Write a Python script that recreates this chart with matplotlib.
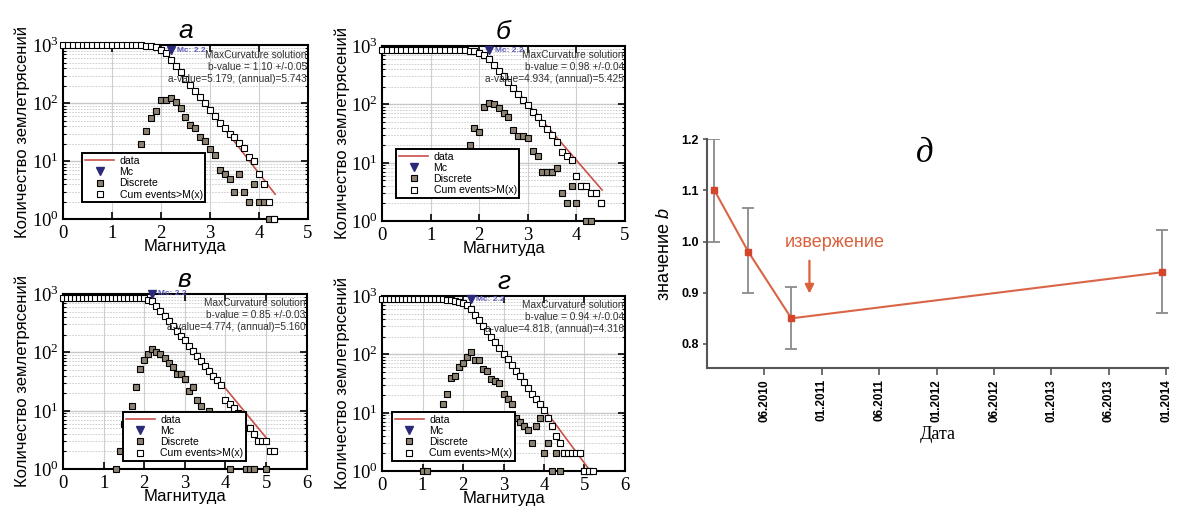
import numpy as np
import matplotlib
matplotlib.use("Agg")
import matplotlib.pyplot as plt
from matplotlib.ticker import FixedLocator, LogLocator, FuncFormatter, NullFormatter

plt.rcParams['font.family'] = ['Liberation Sans', 'DejaVu Sans']
plt.rcParams['mathtext.fontset'] = 'custom'
plt.rcParams['mathtext.rm'] = 'Liberation Serif'
plt.rcParams['mathtext.it'] = 'Liberation Sans:italic'

# ── Данные: графики повторяемости (а, б, в, г) ─────────────
# кумулятивное число событий, бины по 0.1 начиная с M=0
cum_a = [1000]*16 + [995, 985, 960, 930, 840, 740, 566, 435, 348, 257, 205, 164, 129, 100,
                     76, 60, 46, 37, 30, 26, 21, 17, 12, 10, 6, 4, 2, 1]
cum_b = [850]*17 + [845, 830, 810, 760, 690, 600, 470, 380, 300, 240, 190, 150, 120, 97,
                    75, 60, 47, 38, 30, 23, 15, 13, 11, 6, 4, 4, 3, 3, 2]
cum_v = [870]*19 + [860, 840, 800, 760, 620, 510, 420, 340, 280, 230, 190, 160, 130, 105,
                    85, 70, 58, 48, 40, 33, 27, 15, 13, 11, 9, 7, 5, 5, 4, 3, 3, 3, 2, 2]
cum_g = [870]*16 + [860, 850, 830, 800, 760, 700, 600, 470, 380, 310, 250, 200, 160, 130,
                    100, 82, 65, 52, 42, 33, 26, 21, 17, 14, 11, 8, 6, 4, 3, 2, 2, 2, 2, 2,
                    1, 1, 1]

# дискретное число событий (первый бин и значения)
disc_a_m0 = 1.6
disc_a = [20, 33, 55, 74, 115, 115, 122, 105, 83, 58, 42, 38, 26, 22, 16, 13, 7, 6, 5,
          3, 6, 3, 2, 4, 2, 2, 1, 1]
disc_b_m0 = 1.8
disc_b = [20, 40, 33, 91, 105, 100, 85, 70, 60, 37, 29, 29, 26, 16, 13, 7, 7, 7, 8,
          3, 2, 4, 2, 4, 1, 1, 3, 2]
disc_v_m0 = 1.3
disc_v = [1, 2, 6, 8, 12, 25, 52, 75, 94, 115, 100, 95, 80, 65, 55, 42, 42, 35, 22, 25,
          15, 12, 8, 10, 5, 6, 4, 3, 1, 2, 2, 2, 1, 1, 1, 0, 0, 1]
disc_g_m0 = 1.0
disc_g = [1, 1, 0, 0, 0, 14, 21, 40, 42, 60, 70, 89, 108, 80, 80, 55, 52, 38, 35, 32,
          21, 17, 14, 8, 7, 6, 5, 3, 6, 8, 2, 3, 1, 2, 1, 2, 0, 0, 0, 0, 1, 1]

# линия аппроксимации (начало, конец)
fit_a_m, fit_a_n = [2.2, 4.33], [574, 2.7]
fit_b_m, fit_b_n = [2.2, 4.53], [600, 3.4]
fit_v_m, fit_v_n = [2.2, 5.07], [800, 3.0]
fit_g_m, fit_g_n = [2.2, 5.12], [562, 1.05]

mc_vals = [2.2, 2.2, 2.2, 2.2]
mc_n = [820, 850, 1000, 875]

b_texts = ['b-value = 1.10 +/-0.05', 'b-value = 0.98 +/-0.04',
           'b-value = 0.85 +/-0.03', 'b-value = 0.94 +/-0.04']
a_texts = ['a-value=5.179, (annual)=5.743', 'a-value=4.934, (annual)=5.425',
           'a-value=4.774, (annual)=5.160', 'a-value=4.818, (annual)=4.316']
titles = ['а', 'б', 'в', 'г']

# ── Данные: значение b во времени (д) ─────────────────────
date_labels = ['06.2010', '01.2011', '06.2011', '01.2012',
               '06.2012', '01.2013', '06.2013', '01.2014']
b_pos = [0.13, 0.72, 1.47, 7.93]       # позиция в единицах шага подписей дат
b_vals = [1.10, 0.98, 0.85, 0.94]
b_low = [1.00, 0.90, 0.79, 0.86]
b_high = [1.20, 1.065, 0.912, 1.023]
eruption_pos = 1.785

RED_FIT = '#c8504a'
NAVY = '#2b2a7a'


def gr_panel(ax, title, xmax, cum, d_m0, disc, fit_m, fit_n, mc, mcn, btxt, atxt, leg_xy):
    m_cum = np.round(np.arange(len(cum)) * 0.1, 1)
    m_disc = np.round(d_m0 + np.arange(len(disc)) * 0.1, 1)
    disc = np.array(disc, dtype=float)
    keep = disc > 0

    ax.set_yscale('log')
    ax.set_xlim(0, xmax)
    ax.set_ylim(1, 1000)

    # сетка
    for xv in range(1, xmax):
        ax.axvline(xv, color='#cfcfcf', lw=0.8, zorder=0)
    for dec in [1, 10, 100]:
        for k in range(2, 10):
            ax.axhline(dec * k, color='#c8c8c8', lw=0.6, ls=(0, (2, 1.5)), zorder=0)
    for yv in [10, 100]:
        ax.axhline(yv, color='#c8c8c8', lw=1.0, zorder=0)

    l_fit, = ax.plot(fit_m, fit_n, color=RED_FIT, lw=1.2, zorder=3, label='data')
    l_mc, = ax.plot([mc], [mcn], 'v', color=NAVY, ms=6, zorder=5, clip_on=False, label='Mc')
    ax.text(mc + 0.13, mcn, 'Mc: %.1f' % mc, color='#5a5ab8', fontsize=6, fontweight='bold',
            va='center', zorder=5)
    l_d, = ax.plot(m_disc[keep], disc[keep], 's', ms=4.4, mfc='#8c8272', mec='black',
                   mew=0.8, zorder=4, clip_on=False, label='Discrete')
    l_c, = ax.plot(m_cum, cum, 's', ms=4.4, mfc='white', mec='black', mew=0.8, zorder=4,
                   clip_on=False, label='Cum events>M(x)')

    ax.text(0.995, 0.975, 'MaxCurvature solution\n' + btxt + '\n' + atxt,
            transform=ax.transAxes, ha='right', va='top', fontsize=7.3,
            linespacing=1.25, color='#333333', zorder=6)

    leg = ax.legend(handles=[l_fit, l_mc, l_d, l_c], loc='lower left',
                    bbox_to_anchor=leg_xy, fontsize=7.6, frameon=True, fancybox=False,
                    framealpha=1, edgecolor='black', borderpad=0.25, labelspacing=0.12,
                    handlelength=2.8, handletextpad=0.5, borderaxespad=0)
    leg.get_frame().set_linewidth(1.4)
    leg.set_zorder(10)

    ax.xaxis.set_major_locator(FixedLocator(range(0, xmax + 1)))
    ax.yaxis.set_major_locator(LogLocator(base=10, numticks=10))
    ax.yaxis.set_minor_locator(LogLocator(base=10, subs=np.arange(2, 10), numticks=10))
    ax.yaxis.set_major_formatter(FuncFormatter(lambda v, p: '$10^{%d}$' % round(np.log10(v))))
    ax.yaxis.set_minor_formatter(NullFormatter())
    ax.tick_params(which='both', direction='in', top=True, right=True)
    ax.tick_params(which='major', length=5, width=1.2, labelsize=13.5)
    ax.tick_params(axis='x', pad=4)
    ax.tick_params(axis='y', pad=3)
    ax.tick_params(which='minor', length=2.5, width=0.8)
    for lab in ax.get_xticklabels():
        lab.set_fontfamily('Liberation Serif')
    for s in ax.spines.values():
        s.set_linewidth(1.5)

    ax.set_xlabel('Магнитуда', fontsize=12, labelpad=-2)
    ax.set_ylabel('Количество землетрясений', fontsize=12, labelpad=1)
    ax.set_title(title, fontsize=19, fontstyle='italic', pad=5)


fig = plt.figure(figsize=(11.95, 5.11), dpi=100)

ax_a = fig.add_axes([0.0527, 0.571, 0.205, 0.3405])
ax_b = fig.add_axes([0.3197, 0.5675, 0.2033, 0.3425])
ax_v = fig.add_axes([0.0527, 0.0822, 0.204, 0.3425])
ax_g = fig.add_axes([0.3197, 0.0783, 0.2033, 0.3425])

gr_panel(ax_a, titles[0], 5, cum_a, disc_a_m0, disc_a, fit_a_m, fit_a_n, mc_vals[0], mc_n[0],
         b_texts[0], a_texts[0], (0.078, 0.098))
gr_panel(ax_b, titles[1], 5, cum_b, disc_b_m0, disc_b, fit_b_m, fit_b_n, mc_vals[1], mc_n[1],
         b_texts[1], a_texts[1], (0.058, 0.131))
gr_panel(ax_v, titles[2], 6, cum_v, disc_v_m0, disc_v, fit_v_m, fit_v_n, mc_vals[2], mc_n[2],
         b_texts[2], a_texts[2], (0.246, 0.046))
gr_panel(ax_g, titles[3], 6, cum_g, disc_g_m0, disc_g, fit_g_m, fit_g_n, mc_vals[3], mc_n[3],
         b_texts[3], a_texts[3], (0.041, 0.057))

# ── Панель д ──────────────────────────────────────────────
ax5 = fig.add_axes([0.5916, 0.2798, 0.3858, 0.448])
yerr = [np.array(b_vals) - np.array(b_low), np.array(b_high) - np.array(b_vals)]
ax5.errorbar(b_pos, b_vals, yerr=yerr, fmt='none', ecolor='#8a8a8a', elinewidth=1.3,
             capsize=4.5, capthick=1.3, zorder=2)
ax5.plot(b_pos, b_vals, '-s', color='#da6446', lw=1.5, ms=5, mfc='#d4462c', mec='#d4462c',
         zorder=3)

ax5.annotate('', xy=(eruption_pos, 0.893), xytext=(eruption_pos, 0.968),
             arrowprops=dict(arrowstyle='-|>', color='#d9603b', lw=1.6, mutation_scale=13))
ax5.text(2.22, 0.999, 'извержение', color='#d9603b', fontsize=13, ha='center', va='center')
ax5.text(3.79, 1.172, 'д', fontsize=25, fontstyle='italic', family='Liberation Serif',
         ha='center', va='center')

ax5.set_xlim(0, 8.03)
ax5.set_ylim(0.753, 1.2)
ax5.set_xticks(range(1, 9))
ax5.set_xticklabels(date_labels, rotation=90, fontsize=8.5, fontweight='bold')
ax5.set_yticks([0.8, 0.9, 1.0, 1.1, 1.2])
ax5.set_yticklabels(['0.8', '0.9', '1.0', '1.1', '1.2'], fontsize=9, fontweight='bold')
ax5.tick_params(axis='x', direction='out', length=5, width=1.2, color='#555555', pad=3)
ax5.tick_params(axis='y', direction='out', length=3, width=1.2, color='#555555', pad=3)
for side in ['top', 'right']:
    ax5.spines[side].set_visible(False)
for side in ['left', 'bottom']:
    ax5.spines[side].set_linewidth(1.5)
    ax5.spines[side].set_color('#555555')
ax5.set_ylabel('значение $b$', fontsize=13, labelpad=6)
ax5.set_xlabel('Дата', fontsize=13, family='Liberation Serif', labelpad=3)

fig.savefig('out.png', dpi=100)
